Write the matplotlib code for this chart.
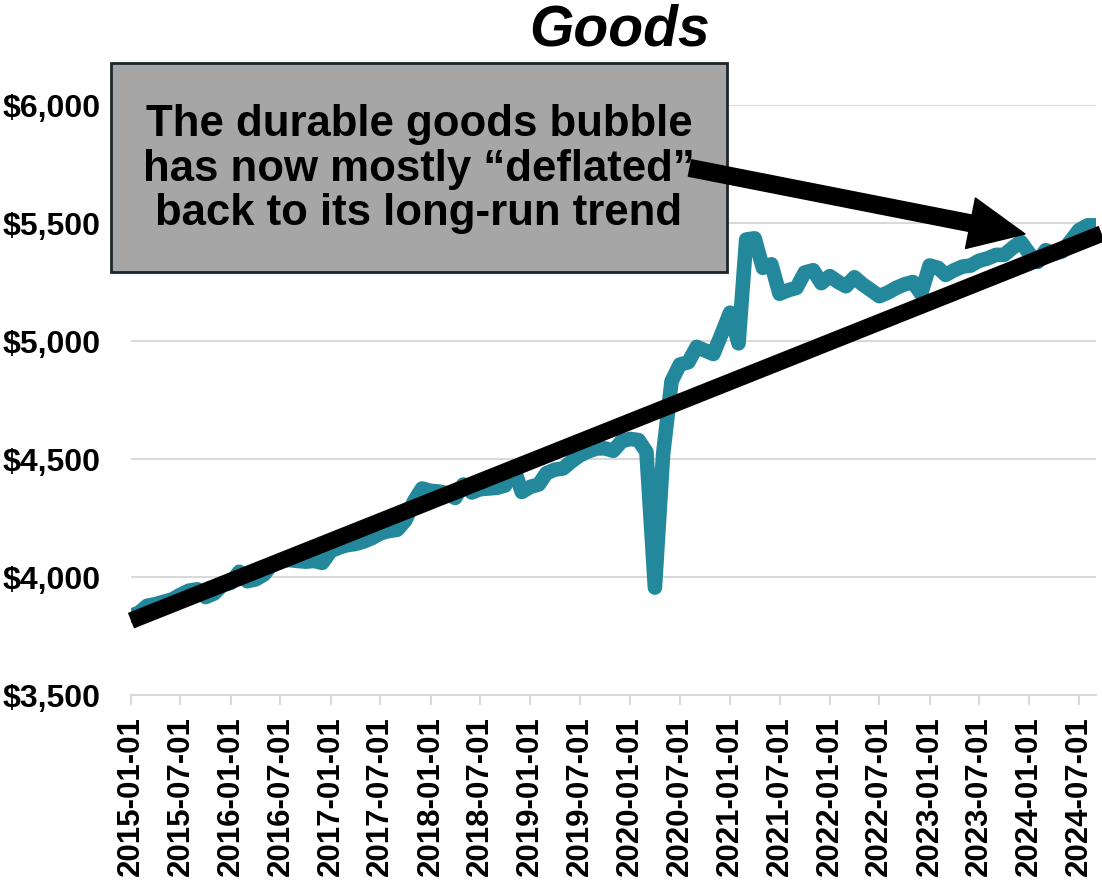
import pandas as pd
import matplotlib.pyplot as plt
import matplotlib.dates as mdates
from matplotlib.patches import Rectangle, FancyArrowPatch
from matplotlib.ticker import FuncFormatter

plt.rcParams['font.family'] = ['Liberation Sans', 'DejaVu Sans']

# monthly real spending on goods, billions of dollars, from Jan 2015
first_month = "2015-01-01"
goods = [
    3835, 3850, 3878, 3885, 3895, 3905, 3925, 3942, 3948, 3915, 3930, 3965,  # 2015
    3975, 4022, 3982, 3990, 4010, 4055, 4068, 4072, 4068, 4065, 4068, 4060,  # 2016
    4110, 4125, 4135, 4140, 4150, 4165, 4185, 4195, 4200, 4240, 4320, 4375,  # 2017
    4365, 4362, 4355, 4335, 4392, 4358, 4372, 4375, 4378, 4388, 4465, 4360,  # 2018
    4382, 4392, 4440, 4455, 4460, 4490, 4515, 4532, 4545, 4545, 4535, 4575,  # 2019
    4585, 4580, 4530, 3955, 4520, 4830, 4900, 4910, 4975, 4960, 4945, 5030,  # 2020
    5120, 4990, 5430, 5435, 5310, 5325, 5200, 5215, 5225, 5290, 5300, 5245,  # 2021
    5275, 5250, 5232, 5270, 5240, 5215, 5190, 5205, 5225, 5240, 5250, 5200,  # 2022
    5320, 5310, 5280, 5300, 5315, 5320, 5340, 5350, 5365, 5365, 5395, 5420,  # 2023
    5370, 5335, 5385, 5370, 5380, 5425, 5470, 5490, 5490,                    # 2024
]

# long-run trend line drawn over the series
trend_dates = ["2015-01-01", "2024-09-22"]
trend_values = [3815, 5455]

tick_labels = [f"{y}-{m}-01" for y in range(2015, 2025) for m in ("01", "07")]
y_ticks = [3500, 4000, 4500, 5000, 5500, 6000]

note = "The durable goods bubble\nhas now mostly \u201cdeflated\u201d\nback to its long-run trend"

dates = pd.date_range(first_month, periods=len(goods), freq="MS")

fig = plt.figure(figsize=(11.02, 8.82), dpi=100)
ax = fig.add_axes([131 / 1102, 1 - 695 / 882, (1096 - 131) / 1102, (695 - 105) / 882])

ax.plot(dates, goods, color="#23889c", lw=10.5, solid_joinstyle="round",
        solid_capstyle="round", zorder=3)
ax.plot(pd.to_datetime(trend_dates), trend_values, color="black", lw=12,
        solid_capstyle="butt", zorder=4, clip_on=False)

ax.set_xlim(dates[0], dates[-1])
ax.set_ylim(3500, 6000)
ax.set_yticks(y_ticks)
ax.yaxis.set_major_formatter(FuncFormatter(lambda v, p: f"${v:,.0f}"))
ax.set_xticks(pd.to_datetime(tick_labels))
ax.xaxis.set_major_formatter(mdates.DateFormatter("%Y-%m-%d"))

ax.grid(axis="y", color="#d9d9d9", lw=1.5)
ax.set_axisbelow(True)
for side in ("left", "right", "top"):
    ax.spines[side].set_visible(False)
ax.spines["bottom"].set_color("#d9d9d9")
ax.spines["bottom"].set_linewidth(1.5)

ax.tick_params(axis="y", length=0, pad=22, labelsize=23)
ax.tick_params(axis="x", length=7, width=1.5, color="#d9d9d9", pad=8,
               labelsize=22.5, rotation=90)
for lbl in ax.get_xticklabels() + ax.get_yticklabels():
    lbl.set_fontweight("bold")

fig.text(620 / 1102, 1 - 31 / 882, "Goods", ha="center", va="center",
         fontsize=41, fontweight="bold", fontstyle="italic")

# callout box with the note
fig.add_artist(Rectangle((111 / 1102, 1 - 272 / 882), (727 - 111) / 1102, (272 - 63) / 882,
                         transform=fig.transFigure, facecolor="#a6a6a6",
                         edgecolor="#1c262c", lw=2, zorder=5))
fig.text(419 / 1102, 1 - 169 / 882, note, ha="center", va="center",
         fontsize=31.5, fontweight="bold", linespacing=1.12, zorder=6)

arrow = FancyArrowPatch((690 / 1102, 1 - 168 / 882), (1025 / 1102, 1 - 234 / 882),
                        transform=fig.transFigure,
                        arrowstyle="simple,head_length=40,head_width=37,tail_width=12",
                        mutation_scale=1, color="black", shrinkA=0, shrinkB=0, zorder=7)
fig.add_artist(arrow)

fig.savefig("out.png", dpi=100)
